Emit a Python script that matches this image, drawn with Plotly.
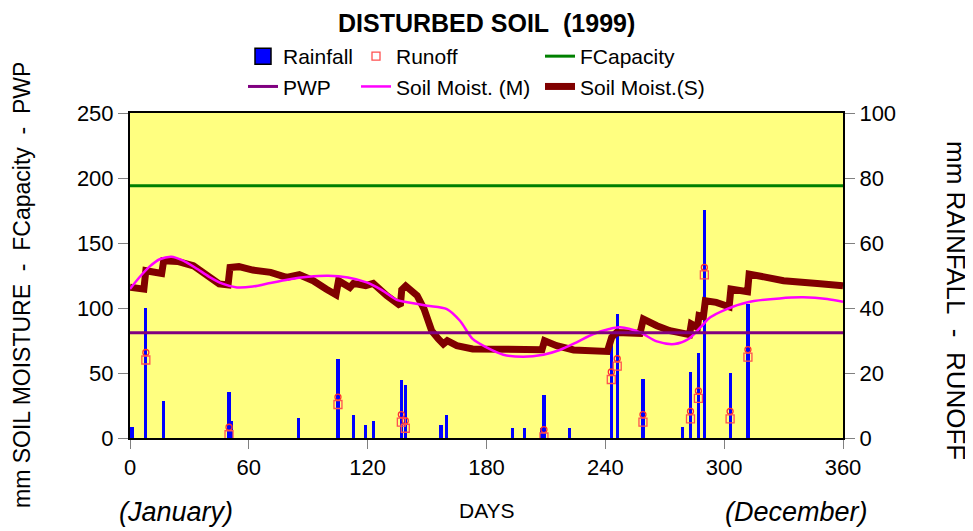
import plotly.graph_objects as go

# ---------------- data ----------------
rain_days = [1, 8, 17, 50, 51, 85, 105, 113, 119, 123, 137, 139, 157, 160,
             193, 199, 208, 209, 222, 243, 246, 259, 279, 283, 287, 290, 303, 312]
rain_mm = [3.3, 40, 11.3, 14.2, 5.1, 6.1, 24.2, 7.1, 4.1, 5.1, 18, 16.2, 4.1, 7.1,
           3.1, 3.1, 3.1, 13.2, 3.1, 30, 38.2, 18.2, 3.3, 20.2, 26.2, 70.2, 20.1, 41.2]

runoff_days = [8, 50, 105, 137, 139, 209, 243, 246, 259, 283, 287, 290, 303, 312]
runoff_mm = [24, 1, 10.3, 4.9, 3, 0.3, 18, 22.1, 4.9, 5.9, 12.2, 50.2, 5.9, 24.9]

fcapacity = 194
pwp = 81
day_range = [0, 360]

sm_m_days = [0, 5, 10, 15, 21, 26, 33, 40, 47, 54, 62, 70, 80, 90, 100, 110, 119.5,
             127, 135, 140, 150, 160, 166.6, 173, 180, 188.5, 198.6, 208.7, 217,
             225.5, 234, 242, 247.4, 257.5, 266, 275, 282, 288, 293, 301.3, 311.4,
             328, 340, 352, 360]
sm_m_vals = [114.6, 124, 132, 137.5, 139.5, 137, 131, 124, 118.5, 115.8, 116.5, 119,
             122, 124, 124.8, 123.5, 119.7, 114, 106, 104.5, 101.8, 99.2, 90.2, 76.2,
             69.7, 64.1, 62.5, 64.1, 67.7, 73.6, 80, 83.8, 85.1, 81.2, 74.3, 72.3,
             76.2, 85.1, 92.8, 99.2, 104.3, 107.4, 108.2, 106.9, 104.8]

sm_s_days = [0, 3, 7, 8, 16, 17, 24, 32, 39, 45, 49.5, 50.5, 55, 62, 71, 79, 85.5,
             92.5, 99, 104, 105.3, 111, 112.8, 119, 122.8, 129.6, 136.5, 137.2, 139.2,
             145, 148.5, 152.3, 155.7, 158.2, 160.2, 165, 173, 192, 208, 209.3, 215.4,
             224, 241, 243.2, 245.7, 257.5, 259.2, 266, 272.6, 282.5, 283.4, 286.5,
             287.3, 289.5, 290.5, 296, 302.5, 303.4, 308, 311.8, 312.6, 321.5, 330,
             347, 360]
sm_s_vals = [116, 115.5, 114.5, 128.7, 126.6, 136.4, 135.8, 132.5, 124.8, 118.5, 117.7,
             131.2, 131.8, 129.2, 127.4, 123.5, 125.6, 121, 114.6, 110.2, 121, 115.8,
             118.9, 117.2, 118.9, 109.5, 101.8, 114, 117, 109.5, 99.2, 82.5, 76.2,
             72.3, 74.8, 71, 68.5, 67.9, 67.9, 74.8, 71, 67.7, 66.6, 77.4, 81.2, 80.5,
             91.5, 86.4, 82.5, 79.5, 87.7, 85.1, 94.1, 93.3, 105.6, 104.3, 101, 114.6,
             113.8, 112.5, 126.1, 123.1, 121, 118.9, 117.2]

x_ticks = [0, 60, 120, 180, 240, 300, 360]

FONT = "Liberation Sans, Arial, sans-serif"
NB = "\u00a0"

fig = go.Figure()

# rainfall bars (primary y axis, right side)
fig.add_trace(go.Bar(x=rain_days, y=rain_mm, width=1.6, marker=dict(color="#0000FF", line=dict(width=0)),
                     yaxis="y", showlegend=False, name="Rainfall"))
# legend swatch for rainfall
fig.add_trace(go.Scatter(x=[None], y=[None], mode="markers", name="Rainfall",
                         marker=dict(symbol="square", size=16, color="#0000FF", line=dict(color="black", width=1.5)),
                         legend="legend", legendrank=1, yaxis="y"))
# runoff icons
runoff_top = [v + 2.3 for v in runoff_mm]
fig.add_trace(go.Scatter(x=runoff_days, y=runoff_top, mode="markers", showlegend=False,
                         marker=dict(symbol="circle-open", size=6, color="#FF3030", line=dict(width=1.3)),
                         yaxis="y"))
fig.add_trace(go.Scatter(x=runoff_days, y=runoff_mm, mode="markers", name="Runoff",
                         marker=dict(symbol="square-open", size=8, color="#FF5050", line=dict(width=1.3)),
                         legend="legend2", legendrank=1, yaxis="y"))

# soil moisture lines (overlay y2, left side)
fig.add_trace(go.Scatter(x=sm_s_days, y=sm_s_vals, mode="lines", name="Soil Moist.(S)",
                         line=dict(color="#800000", width=7), legend="legend3", legendrank=2, yaxis="y2"))
fig.add_trace(go.Scatter(x=sm_m_days, y=sm_m_vals, mode="lines", name="Soil Moist. (M)",
                         line=dict(color="#FF00FF", width=2.5, shape="spline", smoothing=0.8),
                         legend="legend2", legendrank=2, yaxis="y2"))
fig.add_trace(go.Scatter(x=day_range, y=[fcapacity] * 2, mode="lines", name="FCapacity",
                         line=dict(color="#008000", width=3), legend="legend3", legendrank=1, yaxis="y2"))
fig.add_trace(go.Scatter(x=day_range, y=[pwp] * 2, mode="lines", name="PWP",
                         line=dict(color="#800080", width=3), legend="legend", legendrank=2, yaxis="y2"))

leg_common = dict(font=dict(family=FONT, size=21, color="black"), bgcolor="rgba(0,0,0,0)",
                  orientation="v", yanchor="top", xanchor="left", tracegroupgap=4,
                  traceorder="normal", itemwidth=30)

LEG_Y = (438 - 36) / 325

# the page body has an 8px margin: plot area lands at page x 130..843, y 113..438
fig.update_layout(
    width=965, height=523,
    margin=dict(l=122, r=130, t=105, b=93, autoexpand=False),
    paper_bgcolor="white",
    plot_bgcolor="#FFFF80",
    font=dict(family=FONT, size=21, color="black"),
    bargap=0,
    xaxis=dict(range=[0, 360], tickvals=x_ticks, ticks="outside", ticklen=9, tickcolor="#808080",
               showline=True, linecolor="black", linewidth=2, mirror=True, showgrid=False,
               zeroline=False, tickfont=dict(size=22)),
    yaxis=dict(range=[0, 100], dtick=20, side="right", ticks="outside", ticklen=10,
               tickcolor="#808080", showline=True, linecolor="black", linewidth=2,
               showgrid=False, zeroline=False, tickfont=dict(size=22)),
    yaxis2=dict(range=[0, 250], dtick=50, side="left", overlaying="y", ticks="outside",
                ticklen=10, tickcolor="#808080", showline=True, linecolor="black", linewidth=2,
                showgrid=False, zeroline=False, tickfont=dict(size=22)),
    legend=dict(x=(243 - 130) / 713, y=LEG_Y, **leg_common),
    legend2=dict(x=(356 - 130) / 713, y=LEG_Y, **leg_common),
    legend3=dict(x=(540 - 130) / 713, y=LEG_Y, **leg_common),
    annotations=[
        dict(text="<b>DISTURBED SOIL" + NB + NB + "(1999)</b>", x=0.5, y=(438 - 23) / 325,
             font=dict(size=25)),
        dict(text="mm SOIL MOISTURE" + NB * 2 + "-" + NB * 2 + "FCapacity" + NB * 2 + "-" + NB * 2 + "PWP",
             textangle=-90, x=(22 - 130) / 713, y=(438 - 285) / 325, font=dict(size=23)),
        dict(text="mm RAINFALL" + NB * 2 + "-" + NB * 2 + "RUNOFF",
             textangle=90, x=(956 - 130) / 713, y=(438 - 300) / 325, font=dict(size=26)),
        dict(text="DAYS", x=0.5, y=(438 - 510) / 325, font=dict(size=21)),
        dict(text="<i>(January)</i>", x=(176 - 130) / 713, y=(438 - 512) / 325, font=dict(size=27)),
        dict(text="<i>(December)</i>", x=(796 - 130) / 713, y=(438 - 512) / 325, font=dict(size=27)),
    ],
)
for a in fig.layout.annotations:
    a.update(xref="paper", yref="paper", showarrow=False, xanchor="center", yanchor="middle")

fig.write_html("out.html")
